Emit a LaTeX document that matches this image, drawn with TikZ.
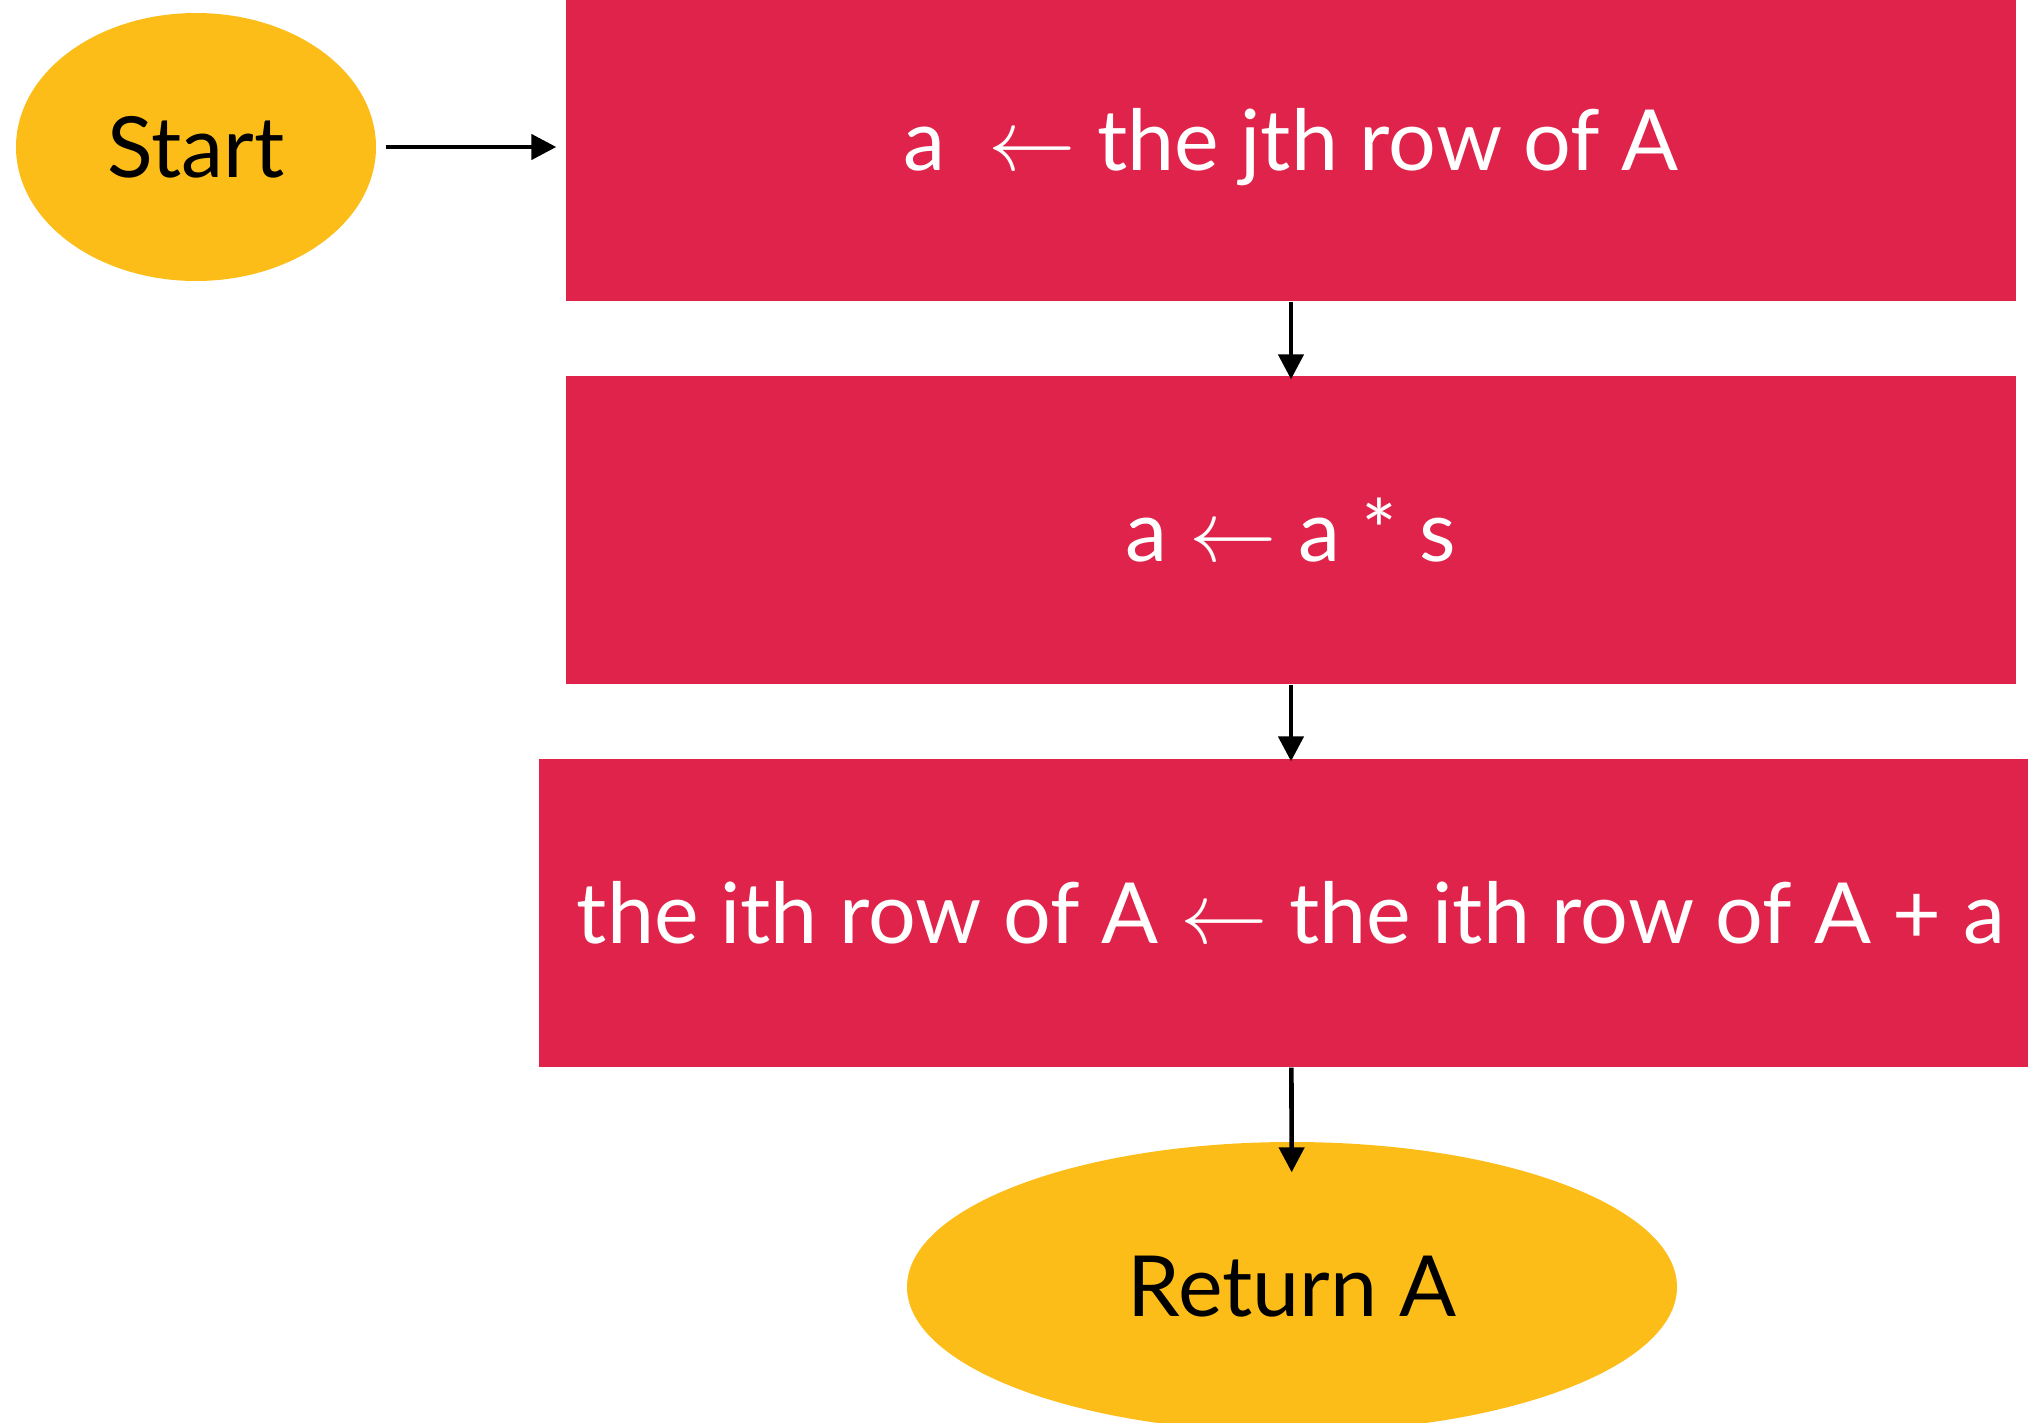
\documentclass[tikz,border=0pt]{standalone}
\usepackage{fontspec}
\setmainfont{Lato}
\usetikzlibrary{shapes.geometric,arrows.meta}
\definecolor{stepred}{RGB}{224,35,74}
\definecolor{termgold}{RGB}{253,189,25}
\begin{document}
\begin{tikzpicture}[
 term/.style={ellipse,fill=termgold,text=black,inner sep=0pt,
              font=\fontsize{24}{28}\selectfont},
 stepbox/.style={rectangle,fill=stepred,text=white,inner sep=0pt,
                 minimum height=3.08cm,font=\fontsize{24}{28}\selectfont},
 flow/.style={-{Triangle[length=0.25cm,width=0.25cm]},line width=1.3pt}]
 \useasboundingbox (0,0) rectangle (20.28,-14.23);
 \node[term,minimum width=3.6cm,minimum height=2.68cm] (start) at (1.96,-1.47) {Start};
 \node[stepbox,minimum width=14.5cm] (b1) at (12.91,-1.47) {a\ \ $\leftarrow$ the jth row of A};
 \node[stepbox,minimum width=14.5cm] (b2) at (12.91,-5.30) {a $\leftarrow$ a * s};
 \node[stepbox,minimum width=15.04cm] (b3) at (12.91,-9.13)
  {the ith row of A $\leftarrow$ the ith row of A + a};
 \node[term,minimum width=7.7cm,minimum height=2.9cm] (ret) at (12.92,-12.87) {Return A};
 \draw[flow,shorten <=0.09cm,shorten >=0.09cm] (start) -- (b1);
 \draw[flow,shorten >=-0.04cm] (b1) -- (b2);
 \draw[flow,shorten >=-0.03cm] (b2) -- (b3);
 \draw[flow,shorten >=-0.31cm] (b3) -- (ret);
\end{tikzpicture}
\end{document}
